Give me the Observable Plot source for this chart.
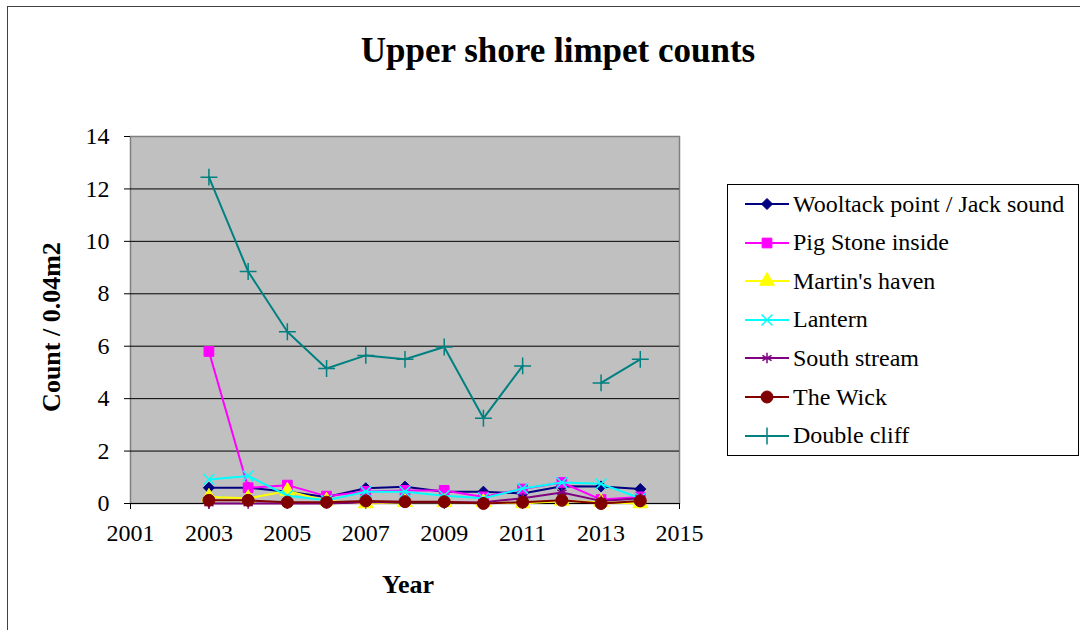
<!DOCTYPE html>
<html>
<head>
<meta charset="utf-8">
<script src="https://cdn.jsdelivr.net/npm/d3@7"></script>
<script src="https://cdn.jsdelivr.net/npm/@observablehq/plot@0.6"></script>
<style>
  html, body { margin: 0; padding: 0; background: #fff; width: 1080px; height: 630px; overflow: hidden; }
  #wrap { position: relative; width: 1080px; height: 630px; font-family: "Liberation Serif", serif; }
  #frame { position: absolute; left: 7px; top: 6px; width: 1200px; height: 800px; border: 1px solid #404040; box-sizing: border-box; }
  #chart { position: absolute; left: 0; top: 0; }
  #chart svg, #chart svg text { font-family: "Liberation Serif", serif !important; }
  .title { position: absolute; left: 0; width: 1116px; top: 31px; text-align: center; font-weight: bold; font-size: 35px; line-height: 40px; }
  .ylab { position: absolute; left: 52px; top: 327px; transform: translate(-50%, -50%) rotate(-90deg); font-weight: bold; font-size: 26px; white-space: nowrap; }
  .xlab { position: absolute; left: 408px; top: 585px; transform: translate(-50%, -50%); font-weight: bold; font-size: 26px; }
  #legend { position: absolute; left: 727px; top: 184px; width: 352px; height: 272px; border: 1px solid #000; box-sizing: border-box; background: #fff; }
  .row { position: absolute; left: 17px; height: 30px; display: flex; align-items: center; font-size: 24px; white-space: nowrap; }
  .row svg { margin-right: 4px; }
</style>
</head>
<body>
<div id="wrap">
  <div id="frame"></div>
  <div id="chart"></div>
  <div class="title">Upper shore limpet counts</div>
  <div class="ylab">Count / 0.04m2</div>
  <div class="xlab">Year</div>
  <div id="legend"></div>
</div>
<script>
const years = [2003, 2004, 2005, 2006, 2007, 2008, 2009, 2010, 2011, 2012, 2013, 2014];
const wooltack    = [0.6, 0.6, 0.45, 0.25, 0.58, 0.64, 0.45, 0.45, 0.38, 0.66, 0.65, 0.55];
const pigStone    = [5.8, 0.6, 0.7, 0.28, 0.46, 0.5, 0.5, 0.25, 0.55, 0.8, 0.15, 0.25];
const martins     = [0.25, 0.2, 0.48, 0.1, 0.0, 0.05, 0.05, 0.05, 0.0, 0.1, 0.05, 0.0];
const lantern     = [0.92, 1.05, 0.3, 0.12, 0.45, 0.45, 0.3, 0.2, 0.57, 0.8, 0.75, 0.2];
const southStream = [0, 0, 0, 0, 0.05, 0.05, 0.05, 0.05, 0.2, 0.42, 0.1, 0.2];
const theWick     = [0.12, 0.12, 0.05, 0.05, 0.1, 0.07, 0.07, 0.0, 0.05, 0.12, 0.0, 0.1];
const doubleCliff = [12.45, 8.85, 6.55, 5.15, 5.65, 5.5, 5.97, 3.25, 5.25, null, 4.6, 5.5];

const seriesNames = ["Wooltack point / Jack sound", "Pig Stone inside", "Martin's haven", "Lantern", "South stream", "The Wick", "Double cliff"];
const seriesValues = [wooltack, pigStone, martins, lantern, southStream, theWick, doubleCliff];
const seriesColors = ["#000080", "#ff00ff", "#ffff00", "#00ffff", "#800080", "#800000", "#008080"];
const seriesSymbols = ["diamond2", "square", "triangle", "times", "asterisk", "circle", "plus"];
const symbolFilled = [true, true, true, false, false, true, false];
const symbolR = [5, 5.5, 5.5, 5, 5, 6, 5.5];

const xTicks = [2001, 2003, 2005, 2007, 2009, 2011, 2013, 2015];
const yTicks = [0, 2, 4, 6, 8, 10, 12, 14];

const marks = [
  Plot.frame({fill: "#c0c0c0", stroke: "#808080", strokeWidth: 1.5}),
  Plot.ruleY(yTicks.filter(d => d > 0 && d < 14), {stroke: "#000", strokeWidth: 1}),
  Plot.ruleY([0], {stroke: "#000", strokeWidth: 1}),
  Plot.axisX({ticks: xTicks, tickFormat: d => String(d), tickSize: 6, tickPadding: 14, label: null, fontSize: 24}),
  Plot.axisY({ticks: yTicks, tickSize: 6, tickPadding: 15, label: null, fontSize: 24})
];

seriesNames.forEach((name, i) => {
  const data = years.map((y, j) => ({year: y, value: seriesValues[i][j]}));
  marks.push(Plot.line(data, {x: "year", y: "value", stroke: seriesColors[i], strokeWidth: 2}));
  marks.push(Plot.dot(data.filter(d => d.value != null), {
    x: "year", y: "value", symbol: () => seriesSymbols[i], r: symbolR[i],
    fill: symbolFilled[i] ? seriesColors[i] : "none",
    stroke: seriesColors[i], strokeWidth: symbolFilled[i] ? 1 : 1.5
  }));
});

const chart = Plot.plot({
  width: 1080, height: 630,
  marginLeft: 130, marginRight: 401, marginTop: 136, marginBottom: 127,
  x: {domain: [2001, 2015]},
  y: {domain: [0, 14]},
  symbol: {type: "identity"},
  style: {fontFamily: "'Liberation Serif', serif", fontSize: "24px", color: "#000", background: "transparent", overflow: "visible"},
  marks
});
document.getElementById("chart").appendChild(chart);

// legend
const legend = d3.select("#legend");
const symMap = {diamond2: d3.symbolDiamond2, square: d3.symbolSquare, triangle: d3.symbolTriangle, times: d3.symbolTimes, asterisk: d3.symbolAsterisk, circle: d3.symbolCircle, plus: d3.symbolPlus};
seriesNames.forEach((name, i) => {
  const row = legend.append("div").attr("class", "row").style("top", (4 + i * 38.6) + "px");
  const svg = row.append("svg").attr("width", 44).attr("height", 30);
  svg.append("line").attr("x1", 0).attr("x2", 44).attr("y1", 15).attr("y2", 15).attr("stroke", seriesColors[i]).attr("stroke-width", 2);
  const r = symbolR[i];
  svg.append("path").attr("transform", "translate(22,15)")
    .attr("d", d3.symbol(symMap[seriesSymbols[i]], Math.PI * r * r)())
    .attr("fill", symbolFilled[i] ? seriesColors[i] : "none")
    .attr("stroke", seriesColors[i]).attr("stroke-width", symbolFilled[i] ? 1 : 1.5);
  row.append("span").text(name);
});
</script>
</body>
</html>
